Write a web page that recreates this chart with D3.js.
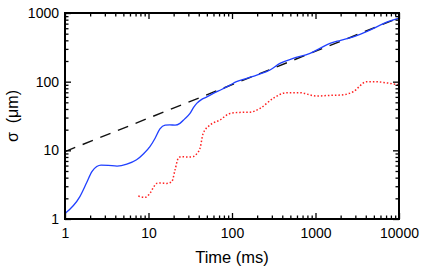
<!doctype html>
<html>
<head>
	<meta charset="utf-8">
	<title>sigma vs time</title>
	<style>
		body { margin: 0; background: #fff; }
		text { font-family: "Liberation Sans", Arial, sans-serif; }
	</style>
</head>
<body>

<svg width="424" height="269"></svg>
<script src="https://d3js.org/d3.v7.min.js"></script>
<script>
// blue solid curve (time ms, sigma um)
var blueT = [1, 1.5, 1.82, 2.1, 2.4, 2.7, 3.3, 4.2, 5.5, 7.2, 8.8, 10.4, 12, 13.7, 15.8, 18, 20.8, 23.8, 27, 31.4, 35, 37.8, 43.4, 50, 59.7, 75, 94.7, 113, 150, 198, 285, 375, 540, 860, 1130, 1490, 2000, 2830, 4480, 6590, 10000];
var blueS = [1.2, 2.1, 3.4, 4.9, 5.8, 6.1, 6.05, 5.9, 6.3, 7.3, 9, 11.3, 15, 20.5, 23.3, 23.5, 23.3, 24.7, 28.5, 34.5, 43, 48.3, 55.3, 60, 67.6, 77, 89, 100, 112, 125, 148, 185, 218, 258, 305, 361, 400, 450, 563, 706, 840];

// red dotted curve
var redT = [7.55, 9.1, 10.4, 11.5, 12.5, 14, 16.5, 19, 20.8, 22.7, 24.5, 30, 34.4, 38, 41.4, 45.2, 54.5, 71.6, 94.7, 124, 165, 217, 310, 450, 648, 1030, 1420, 1960, 2830, 4090, 5380, 7100, 10000];
var redS = [2.16, 2.07, 2.37, 2.9, 3.3, 3.35, 3.3, 3.5, 5.2, 7.65, 8.1, 8, 8.1, 9, 10.7, 17.7, 23.3, 27.6, 34.5, 35.7, 36, 40.8, 57, 69, 69, 61.7, 63, 63.7, 71.3, 99.7, 99.7, 96, 90];

// dashed reference line
var dashT = [1, 10000];
var dashS = [9.6, 850];

var xTicks = [1, 10, 100, 1000, 10000];
var yTicks = [1, 10, 100, 1000];

var svg = d3.select("svg");
var pL = 65, pR = 399, pT = 13, pB = 219;

var x = d3.scaleLog().domain([1, 10000]).range([pL, pR]);
var y = d3.scaleLog().domain([1, 1000]).range([pB, pT]);

var minorX = x.ticks().filter(function(d){ return xTicks.indexOf(d) < 0; });
var minorY = y.ticks().filter(function(d){ return yTicks.indexOf(d) < 0; });

function zip(a, b) { return a.map(function(d, i){ return [d, b[i]]; }); }

var line = d3.line()
	.x(function(d){ return x(d[0]); })
	.y(function(d){ return y(d[1]); })
	.curve(d3.curveMonotoneX);

svg.append("path")
	.datum(zip(dashT, dashS))
	.attr("d", d3.line().x(function(d){ return x(d[0]); }).y(function(d){ return y(d[1]); }))
	.attr("fill", "none")
	.attr("stroke", "#111")
	.attr("stroke-width", 1.4)
	.attr("stroke-dasharray", "11,8");

svg.append("path")
	.datum(zip(redT, redS))
	.attr("d", line)
	.attr("fill", "none")
	.attr("stroke", "#ff2020")
	.attr("stroke-width", 1.5)
	.attr("stroke-dasharray", "1.5,2");

svg.append("path")
	.datum(zip(blueT, blueS))
	.attr("d", line)
	.attr("fill", "none")
	.attr("stroke", "#2040ff")
	.attr("stroke-width", 1.3);

// axes, ticks pointing inward
function styleAxis(g) {
	g.select(".domain").remove();
	g.selectAll(".tick line").attr("stroke", "#000").attr("stroke-width", 1.3);
	g.selectAll("text").attr("font-size", 14).attr("fill", "#000")
		.attr("font-family", "Liberation Sans, Arial, sans-serif");
}

svg.append("g").attr("transform", "translate(0," + pB + ")")
	.call(d3.axisBottom(x).tickValues(xTicks).tickSize(-6).tickPadding(9).tickFormat(d3.format("d")))
	.call(styleAxis);
svg.append("g").attr("transform", "translate(0," + pB + ")")
	.call(d3.axisBottom(x).tickValues(minorX).tickSize(-3.5).tickFormat(""))
	.call(styleAxis);
svg.append("g").attr("transform", "translate(0," + pT + ")")
	.call(d3.axisTop(x).tickValues(xTicks).tickSize(-6).tickFormat(""))
	.call(styleAxis);
svg.append("g").attr("transform", "translate(0," + pT + ")")
	.call(d3.axisTop(x).tickValues(minorX).tickSize(-3.5).tickFormat(""))
	.call(styleAxis);

svg.append("g").attr("transform", "translate(" + pL + ",0)")
	.call(d3.axisLeft(y).tickValues(yTicks).tickSize(-6).tickPadding(6).tickFormat(d3.format("d")))
	.call(styleAxis);
svg.append("g").attr("transform", "translate(" + pL + ",0)")
	.call(d3.axisLeft(y).tickValues(minorY).tickSize(-3.5).tickFormat(""))
	.call(styleAxis);
svg.append("g").attr("transform", "translate(" + pR + ",0)")
	.call(d3.axisRight(y).tickValues(yTicks).tickSize(-6).tickFormat(""))
	.call(styleAxis);
svg.append("g").attr("transform", "translate(" + pR + ",0)")
	.call(d3.axisRight(y).tickValues(minorY).tickSize(-3.5).tickFormat(""))
	.call(styleAxis);

svg.append("rect")
	.attr("x", pL).attr("y", pT)
	.attr("width", pR - pL).attr("height", pB - pT)
	.attr("fill", "none").attr("stroke", "#000").attr("stroke-width", 2);

svg.append("text")
	.attr("x", (pL + pR) / 2).attr("y", 263)
	.attr("text-anchor", "middle").attr("font-size", 16.5)
	.text("Time (ms)");

svg.append("text")
	.attr("transform", "translate(18," + ((pT + pB) / 2) + ") rotate(-90)")
	.attr("text-anchor", "middle").attr("font-size", 16)
	.style("white-space", "pre")
	.text("σ  (μm)");
</script>
</body>
</html>
